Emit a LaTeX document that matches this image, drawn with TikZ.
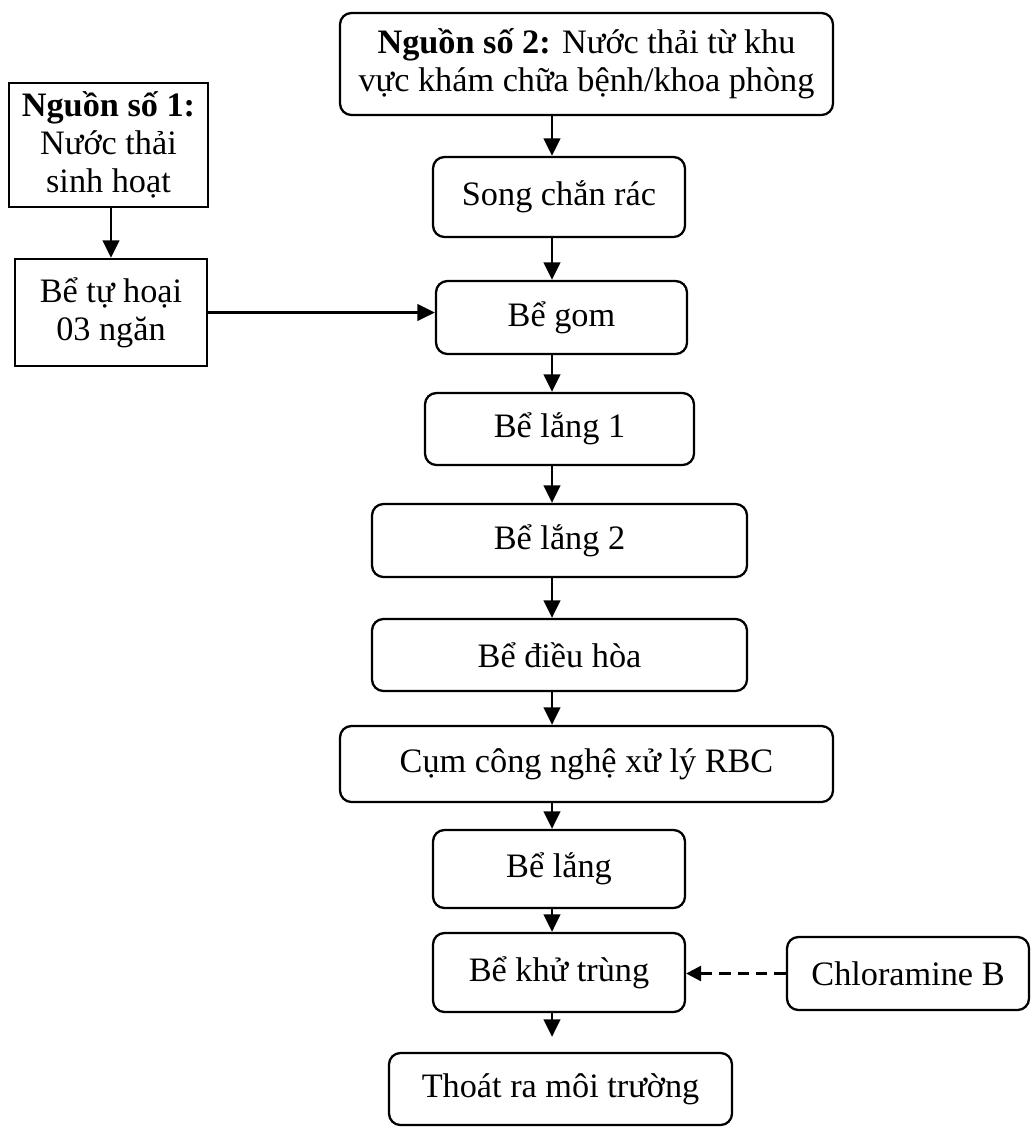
\documentclass[tikz,border=0pt]{standalone}
\usepackage{fontspec}
\setmainfont{Liberation Serif}
\usepackage{tikz}
\usetikzlibrary{arrows.meta, positioning}

\begin{document}
\begin{tikzpicture}[
      x = 1cm, y = 1cm, font = \fontsize{19.5}{21.5}\selectfont,
      box/.style  = {draw = black, line width = 1.3pt, rounded corners = 6.5pt,
                     align = center, inner sep = 0pt},
      sq/.style   = {draw = black, line width = 1.3pt, align = center, inner sep = 0pt},
      arr/.style  = {-{Triangle[length = 10pt, width = 9.5pt]}, line width = 1.5pt},
      dsh/.style  = {-{Triangle[length = 8.5pt, width = 8.5pt]}, line width = 1.5pt,
                     dash pattern = on 6.5pt off 4pt}
    ]
  \useasboundingbox (0,0) rectangle (20.62,-22.56);

  % ---------- main line -------------------------------------------------
  \node[box, minimum width = 9.86cm, minimum height = 2.04cm] (nguon2) at (11.73,-1.28)
        {\textbf{Nguồn số 2:} Nước thải từ khu\\ vực khám chữa bệnh/khoa phòng};
  \node[box, minimum width = 5.04cm, minimum height = 1.60cm] (song)     at (11.18,-3.94)  {Song chắn rác};
  \node[box, minimum width = 5.02cm, minimum height = 1.46cm] (gom)      at (11.23,-6.35)  {Bể gom};
  \node[box, minimum width = 5.38cm, minimum height = 1.44cm] (lang1)    at (11.19,-8.58)  {Bể lắng 1};
  \node[box, minimum width = 7.50cm, minimum height = 1.46cm] (lang2)    at (11.19,-10.81) {Bể lắng 2};
  \node[box, minimum width = 7.50cm, minimum height = 1.44cm] (dieuhoa)  at (11.19,-13.10) {Bể điều hòa};
  \node[box, minimum width = 9.86cm, minimum height = 1.52cm] (rbc)      at (11.73,-15.28) {Cụm công nghệ xử lý RBC};
  \node[box, minimum width = 5.04cm, minimum height = 1.56cm] (lang)     at (11.18,-17.38) {Bể lắng};
  \node[box, minimum width = 5.04cm, minimum height = 1.58cm] (khutrung) at (11.18,-19.45) {Bể khử trùng};
  \node[box, minimum width = 6.86cm, minimum height = 1.44cm] (thoat)    at (11.21,-21.78) {Thoát ra môi trường};

  \coordinate (trunk) at (11.04,0);
  \foreach \a/\b in {nguon2/song, song/gom, gom/lang1, lang1/lang2,
                     lang2/dieuhoa, dieuhoa/rbc, rbc/lang, lang/khutrung}
    \draw[arr] (\a.south -| trunk) -- (\b.north -| trunk);
  \draw[arr, shorten > = 0.3cm] (khutrung.south -| trunk) -- (thoat.north -| trunk);

  % ---------- source 1 --------------------------------------------------
  \node[sq, minimum width = 3.98cm, minimum height = 2.48cm] (nguon1) at (2.17,-2.90)
        {\textbf{Nguồn số 1:}\\ Nước thải\\ sinh hoạt};
  \node[sq, minimum width = 3.84cm, minimum height = 2.14cm] (tuhoai) at (2.22,-6.25)
        {Bể tự hoại\\ 03 ngăn};

  \draw[arr] (nguon1.south -| tuhoai.north) -- (tuhoai.north);
  \draw[arr] (tuhoai.east) -- (tuhoai.east -| gom.west);

  % ---------- dosing ----------------------------------------------------
  \node[box, minimum width = 4.84cm, minimum height = 1.46cm] (chlor) at (18.16,-19.47)
        {Chloramine B};
  \draw[dsh] (chlor.west) -- (chlor.west -| khutrung.east);

\end{tikzpicture}
\end{document}
